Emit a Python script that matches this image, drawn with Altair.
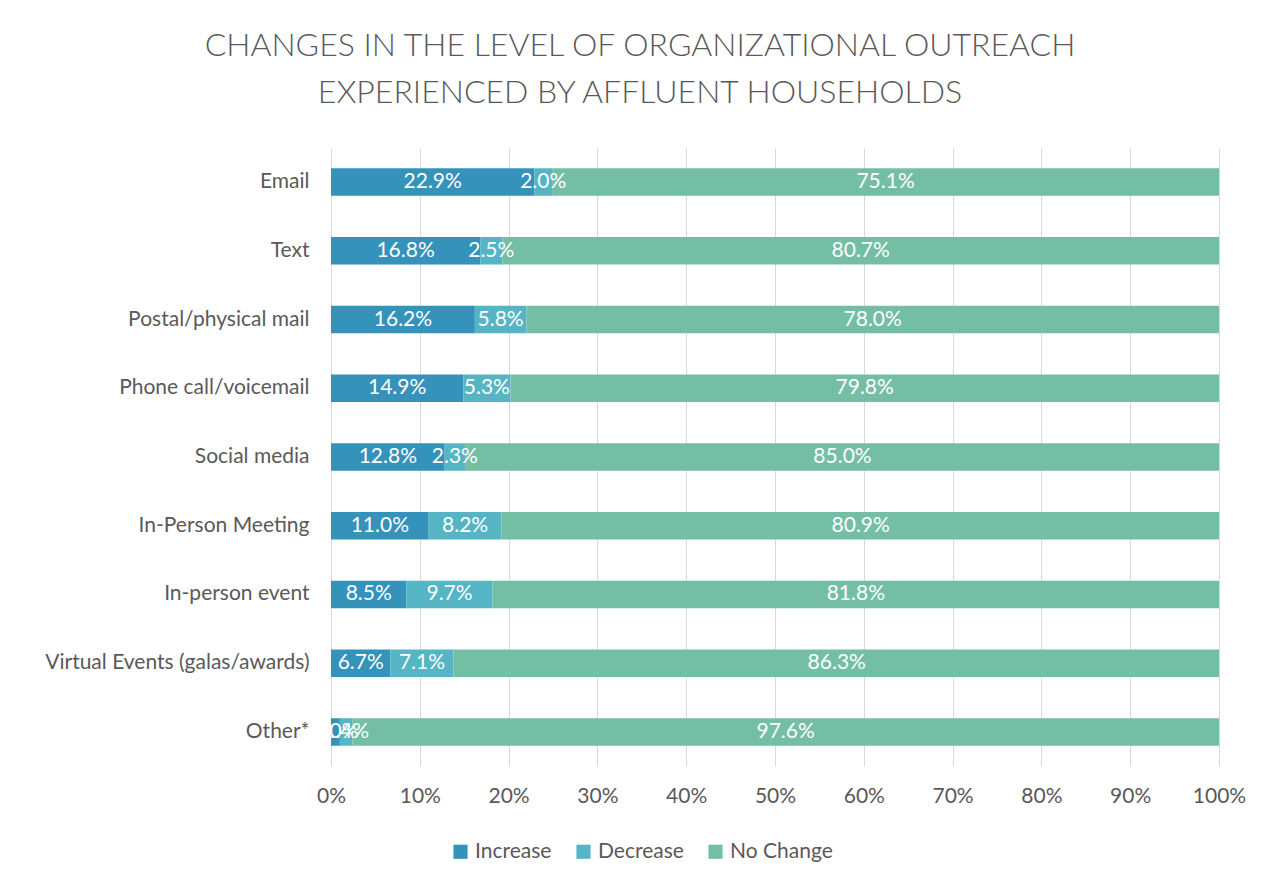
import altair as alt
import pandas as pd

categories = ["Email", "Text", "Postal/physical mail", "Phone call/voicemail", "Social media",
              "In-Person Meeting", "In-person event", "Virtual Events (galas/awards)", "Other*"]
increase = [22.9, 16.8, 16.2, 14.9, 12.8, 11.0, 8.5, 6.7, 1.0]
decrease = [2.0, 2.5, 5.8, 5.3, 2.3, 8.2, 9.7, 7.1, 1.4]
no_change = [75.1, 80.7, 78.0, 79.8, 85.0, 80.9, 81.8, 86.3, 97.6]
series = ["Increase", "Decrease", "No Change"]
colors = ["#3592bb", "#55b5c4", "#74bea6"]
x_ticks = list(range(0, 101, 10))

rows = []
for i, c in enumerate(categories):
    for k, (s, vals) in enumerate(zip(series, [increase, decrease, no_change])):
        rows.append({"cat": c, "series": s, "order": k, "value": vals[i]})
df = pd.DataFrame(rows)

FONT = "Lato"
GREY = "#595959"

base = alt.Chart(df).transform_stack(
    stack="value", groupby=["cat"], sort=[alt.SortField("order")], as_=["x0", "x1"]
).transform_calculate(
    mid="(datum.x0 + datum.x1) / 2",
    label="format(datum.value, '.1f') + '%'"
)

y_enc = alt.Y("cat:N", sort=categories, title=None,
              scale=alt.Scale(paddingInner=0.6, paddingOuter=0.295),
              axis=alt.Axis(labelFont=FONT, labelFontSize=21, labelColor=GREY,
                            ticks=False, domain=False, labelPadding=22, grid=False,
                            labelLimit=400))

bars = base.mark_bar(clip=True).encode(
    x=alt.X("x0:Q", title=None,
            scale=alt.Scale(domain=[0, 100], nice=False),
            axis=alt.Axis(values=x_ticks, labelExpr="datum.value + '%'",
                          labelFont=FONT, labelFontSize=21, labelColor=GREY,
                          ticks=False, domain=False, grid=True, gridColor="#d9d9d9",
                          labelPadding=19, labelFlush=False)),
    x2="x1:Q",
    y=y_enc,
    color=alt.Color("series:N", sort=series,
                    scale=alt.Scale(domain=series, range=colors),
                    legend=alt.Legend(title=None, orient="none", direction="horizontal",
                                      legendX=119, legendY=693, labelFont=FONT,
                                      labelFontSize=21, labelColor=GREY,
                                      symbolType="square", symbolSize=200,
                                      symbolStrokeWidth=0, columnPadding=21,
                                      labelOffset=4, padding=0)),
    order=alt.Order("order:Q"),
)

texts = base.mark_text(color="white", font=FONT, fontSize=21).encode(
    x=alt.X("mid:Q"),
    y=alt.Y("cat:N", sort=categories),
    text="label:N",
)

chart = (bars + texts).properties(
    width=888, height=618,
    autosize=alt.AutoSizeParams(type="none"),
    padding={"left": 323, "top": 140, "right": 40, "bottom": 110},
    title=alt.TitleParams(
        ["CHANGES IN THE LEVEL OF ORGANIZATIONAL OUTREACH", "EXPERIENCED BY AFFLUENT HOUSEHOLDS"],
        font=FONT, fontSize=32, fontWeight=300, color=GREY, anchor="middle",
        dx=-135, offset=38, lineHeight=47),
).configure(background="white").configure_view(stroke=None)

chart.save("out.html", embed_options={"renderer": "svg", "actions": False})
